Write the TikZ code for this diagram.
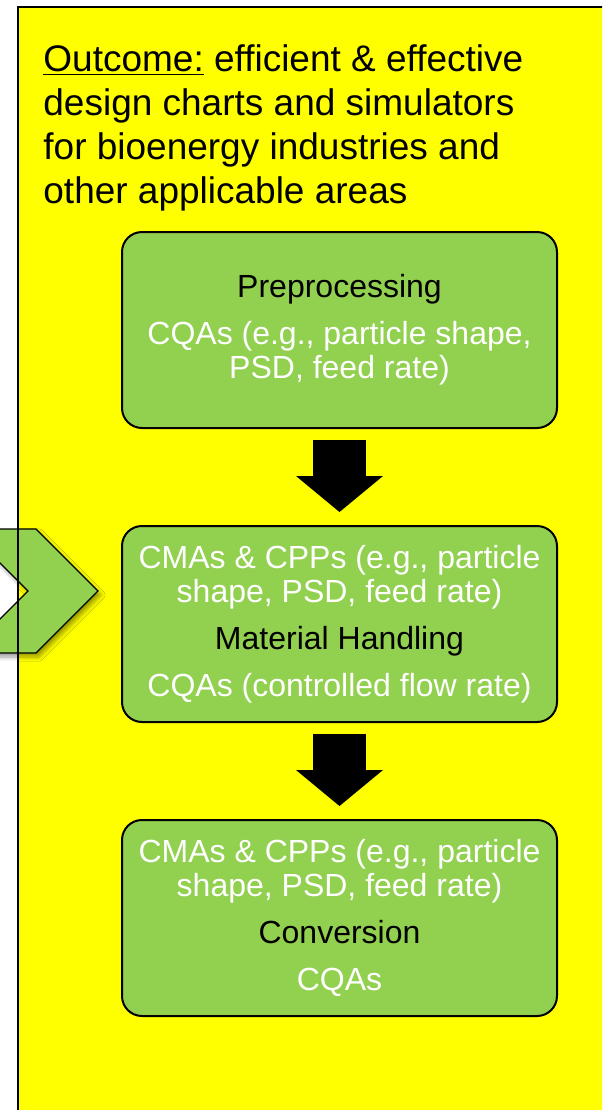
\documentclass[tikz,border=0pt]{standalone}
\usepackage{fontspec}
\setmainfont{Liberation Sans}
\usetikzlibrary{positioning,arrows.meta,shadows.blur}

\definecolor{leafgreen}{HTML}{92D050}
\definecolor{padyellow}{HTML}{FFFF00}

\tikzset{
  stagebox/.style={draw=black, line width=1pt, fill=leafgreen, text=white,
    rounded corners=10pt, minimum width=217.5pt, minimum height=98pt,
    align=center, inner sep=0pt, outer sep=0pt,
    font=\fontsize{16}{17}\selectfont},
  flowarrow/.style={line width=26.5pt, draw=black,
    -{Triangle[length=18pt,width=43.5pt,line width=0pt,fill=black]},
    shorten <=6pt, shorten >=7pt},
}

\begin{document}
\begin{tikzpicture}[x=0.5pt,y=-0.5pt]
\clip (0,0) rectangle (602,1110);

% panel
\fill[padyellow] (18,7) rectangle (640,1140);

% chevron coming in from the left
\filldraw[fill=leafgreen, draw=black, line width=0.6pt,
  blur shadow={shadow xshift=1.5pt, shadow yshift=-2pt, shadow blur steps=6}]
  (-34,529) -- (36,529) -- (98,591) -- (36,653) -- (-34,653) -- (28,591) -- cycle;

\draw[line width=0.8pt] (18,1140) -- (18,7) -- (640,7);

\node[anchor=north west, align=left, inner sep=0pt,
  font=\fontsize{18.5}{22}\selectfont] (outcome) at (43,44)
  {\underline{Outcome:} efficient \& effective\\
   design charts and simulators\\
   for bioenergy industries and\\
   other applicable areas};

\node[stagebox] (pre) at (339.5,330)
  {\textcolor{black}{Preprocessing}\\[6.5pt]
   CQAs (e.g., particle shape,\\
   PSD, feed rate)};
\node[stagebox, below=49pt of pre] (mh)
  {CMAs \& CPPs (e.g., particle\\
   shape, PSD, feed rate)\\[6.5pt]
   \textcolor{black}{Material Handling}\\[6.5pt]
   CQAs (controlled flow rate)};
\node[stagebox, below=49pt of mh] (conv)
  {CMAs \& CPPs (e.g., particle\\
   shape, PSD, feed rate)\\[6.5pt]
   \textcolor{black}{Conversion}\\[6.5pt]
   CQAs};

\draw[flowarrow] (pre) -- (mh);
\draw[flowarrow] (mh) -- (conv);
\end{tikzpicture}
\end{document}
